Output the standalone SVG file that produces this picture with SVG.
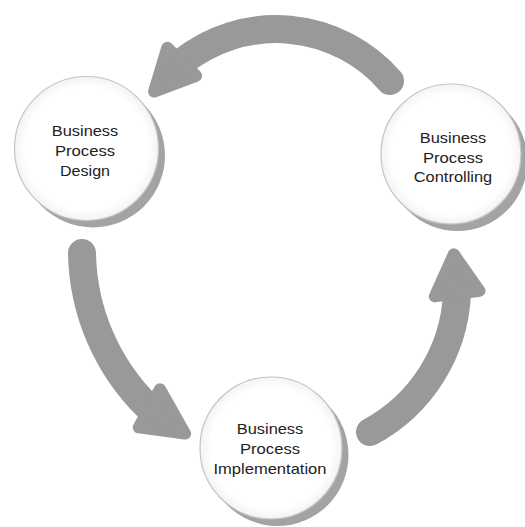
<svg xmlns="http://www.w3.org/2000/svg" width="525" height="527" viewBox="0 0 525 527">
<defs>
<filter id="blur" x="-20%" y="-20%" width="140%" height="140%"><feGaussianBlur stdDeviation="0.7"/></filter>
<radialGradient id="face" cx="50%" cy="50%" r="50%"><stop offset="0.85" stop-color="#ffffff"/><stop offset="1" stop-color="#f3f3f3"/></radialGradient>
</defs>
<style>
.shaft{fill:none;stroke:#999999;stroke-width:28;stroke-linecap:round}
.head{fill:#999999;stroke:#999999;stroke-width:12;stroke-linejoin:round}
.shadow{fill:#a3a3a3;filter:url(#blur)}
.face{fill:url(#face);stroke:#c4c4c4;stroke-width:1.2}
.lbl{font-family:"Liberation Sans",Arial,sans-serif;font-size:14.5px;fill:#222222;text-anchor:middle}
</style>
<rect width="525" height="527" fill="#ffffff"/>
<g id="connectors">
<path class="shaft" d="M 390 81 A 151 151 0 0 0 182 62"/>
<polygon class="head" points="167.3,47.8 196.1,75.9 154.1,91.6"/>
<path class="shaft" d="M 82 253 A 221 221 0 0 0 149 408"/>
<polygon class="head" points="160,389.3 138.7,427.4 185.1,433.6"/>
<path class="shaft" d="M 370 432 A 166 166 0 0 0 457 294"/>
<polygon class="head" points="453.8,254.3 434.8,296.4 479.5,290.9"/>
</g>
<g id="node-design">
<circle class="shadow" cx="93" cy="155.5" r="72"/>
<circle class="face" cx="86.5" cy="148.5" r="72"/>
<text class="lbl" x="85" y="135.7" textLength="66.5" lengthAdjust="spacingAndGlyphs">Business</text>
<text class="lbl" x="85" y="155.7" textLength="60" lengthAdjust="spacingAndGlyphs">Process</text>
<text class="lbl" x="85" y="175.7" textLength="50" lengthAdjust="spacingAndGlyphs">Design</text>
</g>
<g id="node-controlling">
<circle class="shadow" cx="457.5" cy="161" r="70"/>
<circle class="face" cx="451" cy="154" r="70"/>
<text class="lbl" x="453" y="142.7" textLength="66.5" lengthAdjust="spacingAndGlyphs">Business</text>
<text class="lbl" x="453" y="162.7" textLength="60" lengthAdjust="spacingAndGlyphs">Process</text>
<text class="lbl" x="453" y="182.3" textLength="78.5" lengthAdjust="spacingAndGlyphs">Controlling</text>
</g>
<g id="node-implementation">
<circle class="shadow" cx="277.5" cy="455" r="71"/>
<circle class="face" cx="271" cy="448" r="71"/>
<text class="lbl" x="270" y="434.3" textLength="66.5" lengthAdjust="spacingAndGlyphs">Business</text>
<text class="lbl" x="270" y="454.3" textLength="60" lengthAdjust="spacingAndGlyphs">Process</text>
<text class="lbl" x="270" y="474.3" textLength="113" lengthAdjust="spacingAndGlyphs">Implementation</text>
</g>
</svg>
